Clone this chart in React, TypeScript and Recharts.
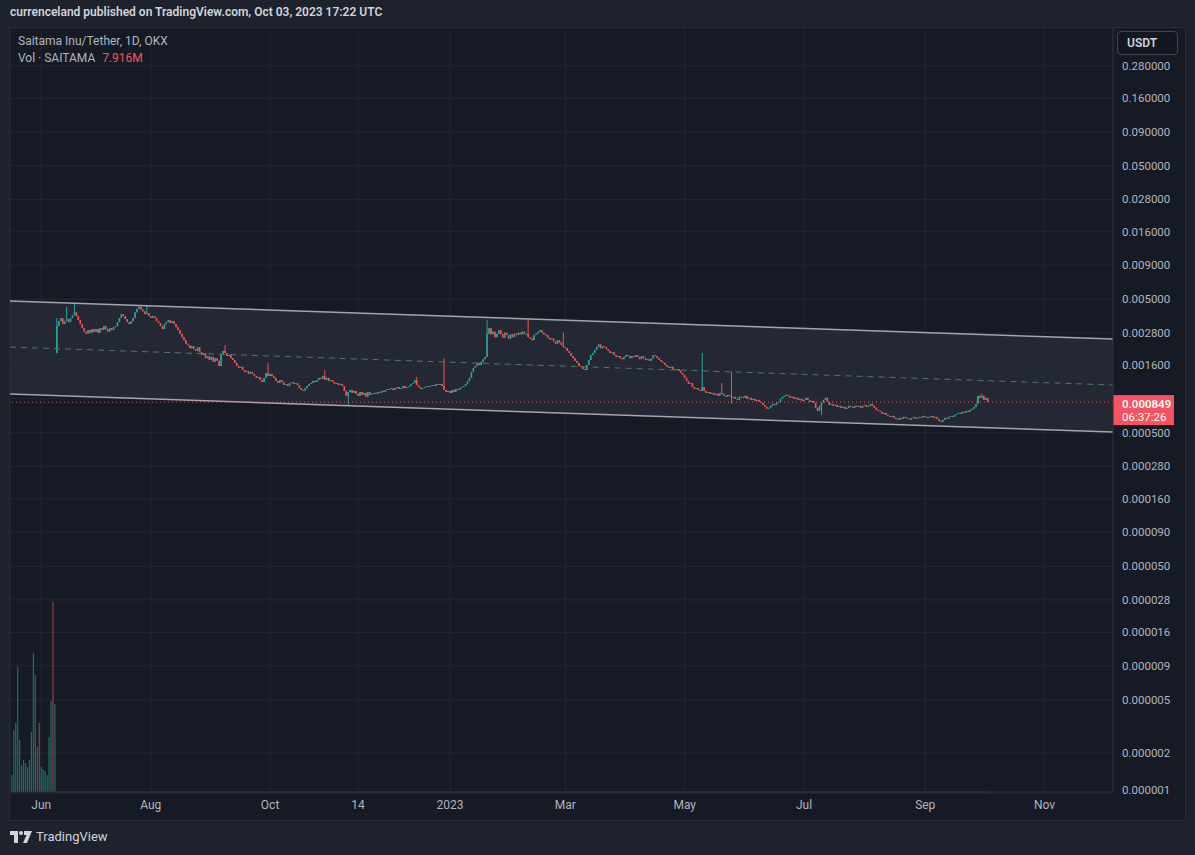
import React from "react";
import {
  ComposedChart,
  Bar,
  Line,
  Area,
  XAxis,
  YAxis,
  CartesianGrid,
  ReferenceLine,
} from "recharts";

// prices are in micro-USDT (1e-6), one close per day starting 2022-06-13
const FIRST_DAY = -201; // days relative to 2023-01-01
const FIRST_OPEN = 1980;
const closeMicro = [
  3150, 3430, 3620, 3260, 3430, 3560, 3370, 3620, 3800, 3990,
  3740, 3490, 3260, 3040, 2860, 2760, 2940, 2810, 2990, 2860,
  2990, 2810, 3040, 2940, 3150, 2990, 2860, 3040, 2940, 3090,
  3150, 3370, 3620, 3870, 3740, 3550, 3370, 3260, 3430, 3620,
  3990, 4250, 4400, 4180, 4060, 3870, 3940, 3740, 3620, 3740,
  3620, 3430, 3320, 3150, 2990, 3260, 3370, 3490, 3320, 3430,
  3260, 3090, 2940, 2760, 2600, 2472, 2320, 2271, 2150, 2230,
  2120, 2050, 2190, 2010, 1911, 1980, 1810, 1880, 1754, 1850,
  1700, 1810, 1730, 1580, 1940, 2050, 1980, 1880, 1911, 1810,
  1754, 1670, 1580, 1530, 1560, 1476, 1430, 1450, 1380, 1430,
  1380, 1330, 1290, 1310, 1243, 1200, 1290, 1400, 1330, 1380,
  1330, 1290, 1220, 1180, 1243, 1200, 1141, 1160, 1120, 1180,
  1200, 1160, 1180, 1141, 1080, 1047, 1030, 1080, 1120, 1160,
  1180, 1220, 1200, 1243, 1290, 1270, 1330, 1243, 1290, 1220,
  1243, 1200, 1160, 1180, 1141, 1160, 1120, 1030, 945, 1010,
  1047, 995, 1030, 980, 945, 1010, 961, 995, 930, 1010,
  961, 980, 995, 980, 1010, 995, 1030, 1010, 1047, 1065,
  1065, 1080, 1047, 1080, 1100, 1065, 1080, 1120, 1080, 1100,
  1120, 1160, 1180, 1243, 1141, 1100, 1065, 1080, 1100, 1120,
  1100, 1120, 1141, 1120, 1160, 1141, 1160, 1120, 1047, 1010,
  1030, 995, 1047, 1010, 1065, 1047, 1080, 1100, 1120, 1160,
  1220, 1290, 1430, 1530, 1580, 1670, 1609, 1700, 1780, 1850,
  2760, 3040, 2730, 2860, 2600, 2760, 2940, 2730, 2580, 2810,
  2698, 2540, 2730, 2600, 2760, 2698, 2810, 2730, 2860, 2760,
  2760, 2600, 2540, 2472, 2698, 2760, 2860, 2940, 2810, 2730,
  2698, 2580, 2500, 2540, 2420, 2320, 2472, 2370, 2271, 2190,
  2150, 2050, 1980, 1880, 1810, 1730, 1670, 1580, 1560, 1500,
  1476, 1609, 1754, 1911, 1980, 2082, 2190, 2300, 2150, 2230,
  2190, 2120, 2050, 1980, 2010, 1911, 1850, 1880, 1810, 1780,
  1850, 1911, 1880, 1810, 1880, 1850, 1911, 1850, 1780, 1880,
  1810, 1754, 1780, 1730, 1810, 1911, 1880, 1810, 1754, 1700,
  1670, 1609, 1560, 1530, 1560, 1500, 1476, 1500, 1450, 1400,
  1355, 1290, 1220, 1160, 1180, 1100, 1065, 1080, 1047, 1030,
  1100, 1030, 995, 1010, 980, 995, 961, 980, 945, 995,
  980, 945, 930, 961, 945, 914, 930, 898, 881, 930,
  930, 914, 945, 898, 914, 881, 898, 866, 881, 852,
  838, 809, 783, 757, 770, 796, 823, 809, 838, 852,
  898, 930, 945, 961, 945, 914, 930, 898, 914, 881,
  898, 866, 881, 914, 881, 852, 866, 838, 770, 730,
  796, 838, 881, 914, 852, 809, 823, 796, 809, 783,
  796, 770, 783, 757, 770, 796, 783, 770, 796, 783,
  796, 770, 796, 809, 783, 796, 823, 796, 770, 743,
  730, 717, 692, 705, 681, 669, 658, 669, 647, 636,
  625, 647, 636, 658, 647, 636, 625, 647, 658, 636,
  647, 658, 647, 669, 658, 647, 658, 669, 647, 658,
  636, 614, 604, 625, 647, 636, 658, 669, 658, 681,
  692, 705, 692, 717, 705, 730, 717, 743, 757, 783,
  823, 945, 914, 945, 881, 914, 849,
];

// [candle index, wick high, wick low] for the visible spikes
const wickSpikes: [number, number | null, number | null][] = [
  [0, 3620, null],
  [5, 4400, null],
  [9, 4680, null],
  [46, 4519, null],
  [86, 2271, null],
  [108, 1670, null],
  [137, 1476, null],
  [149, null, 809],
  [184, 1310, null],
  [198, 1810, null],
  [220, 3490, null],
  [241, 3620, null],
  [259, 2810, null],
  [330, 1980, null],
  [340, 1180, null],
  [345, 1430, 830],
  [391, null, 681],
  [473, 980, null],
];

// early volume bars (billions of SAITAMA), days -224 .. -202
const VOL_FIRST_DAY = -224;
const earlyVolume = [
  170, 620, 690, 1250, 520, 270, 320, 290, 250, 320, 600, 1390,
  1170, 450, 690, 250, 230, 210, 170, 550, 910, 1900, 880,
];
const earlyVolumeUp = [
  true, true, true, true, true, true, true, true, true, true, true, true,
  true, true, false, true, true, true, true, true, true, false, true,
];

// parallel channel endpoints
const channelDays = [-225, 339];
const channelUpper = [0.00485, 0.002519];
const channelMid = [0.002194, 0.00114];
const channelLower = [0.000975, 0.000507];

const LAST_PRICE = 0.000849;
const LAST_TIMER = "06:37:26";

const priceTicks = [
  0.28, 0.16, 0.09, 0.05, 0.028, 0.016, 0.009, 0.005, 0.0028, 0.0016, 0.0009,
  0.0005, 0.00028, 0.00016, 0.00009, 0.00005, 0.000028, 0.000016, 0.000009,
  0.000005, 0.000002, 0.000001,
];
const timeTicks = [-209, -153, -92, -47, 0, 59, 120, 181, 243, 304];
const timeLabels = ["Jun", "Aug", "Oct", "14", "2023", "Mar", "May", "Jul", "Sep", "Nov"];

const UP = "#26a69a";
const DOWN = "#ef5350";
const PANE = "#161a25";
const OUTER = "#1e222d";
const BORDER = "#2a2e39";
const GRID = "#232733";
const TEXT = "#b2b5be";
const FONT = "Roboto, 'Noto Sans', sans-serif";

type Row = {
  d: number;
  o?: number;
  c?: number;
  h?: number;
  l?: number;
  v?: number;
  up?: boolean;
  upper?: number;
  mid?: number;
  lower?: number;
  band?: [number, number];
};

function buildRows(): Row[] {
  const rows: Row[] = [];
  channelDays.forEach((d, i) => {
    rows.push({
      d,
      upper: channelUpper[i],
      mid: channelMid[i],
      lower: channelLower[i],
      band: [channelLower[i], channelUpper[i]],
    });
  });
  earlyVolume.forEach((v, i) => {
    rows.push({ d: VOL_FIRST_DAY + i, v, up: earlyVolumeUp[i] });
  });
  closeMicro.forEach((c, i) => {
    const o = i === 0 ? FIRST_OPEN : closeMicro[i - 1];
    const spike = wickSpikes.find((w) => w[0] === i);
    const h = Math.max(o, c, spike?.[1] ?? 0);
    const l = Math.min(o, c, spike?.[2] ?? Infinity);
    rows.push({ d: FIRST_DAY + i, o: o / 1e6, c: c / 1e6, h: h / 1e6, l: l / 1e6 });
  });
  return rows.sort((a, b) => a.d - b.d);
}

const data = buildRows();

function CandleShape(props: any) {
  const { x, y, width, height, payload } = props;
  if (!payload || payload.c == null || !isFinite(y) || !isFinite(height)) return null;
  const top = Math.min(y, y + height);
  const bottom = Math.max(y, y + height);
  const lh = Math.log(payload.h);
  const ll = Math.log(payload.l);
  const span = lh - ll || 1;
  const toY = (v: number) => top + ((lh - Math.log(v)) / span) * (bottom - top);
  const color = payload.c >= payload.o ? UP : DOWN;
  const cx = x + width / 2;
  const bTop = toY(Math.max(payload.o, payload.c));
  const bBot = toY(Math.min(payload.o, payload.c));
  return (
    <g>
      <line x1={cx} x2={cx} y1={top} y2={Math.max(bottom, top + 1)} stroke={color} strokeWidth={1} />
      <rect x={cx - 0.8} y={bTop} width={1.6} height={Math.max(1, bBot - bTop)} fill={color} />
    </g>
  );
}

function VolumeShape(props: any) {
  const { x, y, width, height, payload } = props;
  if (!payload || payload.v == null || !isFinite(y) || !isFinite(height) || height <= 0) return null;
  return (
    <rect
      x={x + width / 2 - 0.6}
      y={y}
      width={1.2}
      height={height}
      fill={payload.up ? UP : DOWN}
      fillOpacity={0.6}
    />
  );
}

function PriceTick(props: any) {
  const { x, y, payload } = props;
  const v = payload.value as number;
  if (v === 0.0009) return null;
  const dy = v === 0.000001 ? -3 : 0;
  return (
    <text
      x={x + 1}
      y={y + dy}
      fill={TEXT}
      fontSize={11.5}
      fontFamily={FONT}
      textAnchor="start"
      dominantBaseline="central"
    >
      {v.toFixed(6)}
    </text>
  );
}

function PriceBadge(props: any) {
  const vb = props.viewBox;
  if (!vb) return null;
  const x = vb.x + vb.width;
  const y = vb.y;
  return (
    <g>
      <rect x={x} y={y - 7} width={61} height={30} fill="#f7525f" />
      <text x={x + 9} y={y + 2} fill="#ffffff" fontSize={11.5} fontWeight={600} fontFamily={FONT} dominantBaseline="central">
        {LAST_PRICE.toFixed(6)}
      </text>
      <text x={x + 9} y={y + 15} fill="#ffffff" fontSize={11.5} fontFamily={FONT} dominantBaseline="central">
        {LAST_TIMER}
      </text>
    </g>
  );
}

function TvLogo() {
  return (
    <svg width={22} height={12} viewBox="0 0 22 12" style={{ display: "block" }}>
      <path d="M0 0h8v12H4V4H0z" fill="#d1d4dc" />
      <circle cx={11} cy={2} r={2} fill="#d1d4dc" />
      <path d="M14 0h8l-5 12h-4l3.5-8H14z" fill="#d1d4dc" />
    </svg>
  );
}

export default function App() {
  return (
    <div
      style={{
        position: "absolute",
        left: 0,
        top: 0,
        width: 1195,
        height: 855,
        background: OUTER,
        fontFamily: FONT,
        overflow: "hidden",
      }}
    >
      <div
        style={{
          position: "absolute",
          left: 10,
          top: 5,
          fontSize: 12,
          fontWeight: 600,
          color: "#d1d4dc",
          whiteSpace: "nowrap",
        }}
      >
        currenceland published on TradingView.com, Oct 03, 2023 17:22 UTC
      </div>

      <div
        style={{
          position: "absolute",
          left: 9,
          top: 27,
          width: 1175,
          height: 792,
          background: PANE,
          border: `1px solid ${BORDER}`,
        }}
      />

      <div style={{ position: "absolute", left: 0, top: 0 }}>
        <ComposedChart
          width={1185}
          height={820}
          data={data}
          margin={{ top: 28, right: 0, bottom: 0, left: 10 }}
        >
          <CartesianGrid yAxisId="price" stroke={GRID} />
          <XAxis
            dataKey="d"
            type="number"
            domain={[-225, 339]}
            allowDataOverflow
            ticks={timeTicks}
            interval={0}
            tickFormatter={(v: number) => timeLabels[timeTicks.indexOf(v)] ?? ""}
            height={28}
            axisLine={{ stroke: BORDER }}
            tickLine={false}
            tick={{ fill: TEXT, fontSize: 12, fontFamily: FONT }}
          />
          <XAxis
            xAxisId="v"
            dataKey="d"
            type="number"
            domain={[-225, 339]}
            allowDataOverflow
            hide
          />
          <YAxis
            yAxisId="price"
            orientation="right"
            scale="log"
            domain={[1.02e-6, 0.538]}
            allowDataOverflow
            ticks={priceTicks}
            interval={0}
            width={72}
            axisLine={{ stroke: BORDER }}
            tickLine={false}
            tick={<PriceTick />}
          />
          <YAxis yAxisId="vol" hide domain={[0, 7640]} allowDataOverflow />

          <Area
            yAxisId="price"
            dataKey="band"
            type="linear"
            stroke="none"
            fill="#2a2e39"
            fillOpacity={0.75}
            connectNulls
            isAnimationActive={false}
          />
          <Line
            yAxisId="price"
            dataKey="upper"
            type="linear"
            stroke="#a3a6af"
            strokeWidth={1.5}
            dot={false}
            connectNulls
            isAnimationActive={false}
          />
          <Line
            yAxisId="price"
            dataKey="lower"
            type="linear"
            stroke="#a3a6af"
            strokeWidth={1.5}
            dot={false}
            connectNulls
            isAnimationActive={false}
          />
          <Line
            yAxisId="price"
            dataKey="mid"
            type="linear"
            stroke="#4f7a5e"
            strokeWidth={1}
            strokeDasharray="6 5"
            dot={false}
            connectNulls
            isAnimationActive={false}
          />

          <Bar
            xAxisId="v"
            yAxisId="vol"
            dataKey="v"
            barSize={2}
            shape={<VolumeShape />}
            isAnimationActive={false}
          />
          <ReferenceLine
            xAxisId="v"
            yAxisId="vol"
            segment={[
              { x: FIRST_DAY, y: 0 },
              { x: FIRST_DAY + closeMicro.length - 1, y: 0 },
            ]}
            stroke={UP}
            strokeOpacity={0.55}
            strokeDasharray="1 1"
          />

          <Bar
            yAxisId="price"
            dataKey={(r: Row) => (r.c == null ? undefined : [r.l, r.h])}
            barSize={2}
            shape={<CandleShape />}
            isAnimationActive={false}
          />

          <ReferenceLine
            yAxisId="price"
            y={LAST_PRICE}
            stroke="#f7525f"
            strokeDasharray="1 3"
            label={<PriceBadge />}
          />
        </ComposedChart>
      </div>

      <div style={{ position: "absolute", left: 18, top: 34, fontSize: 12, color: TEXT, whiteSpace: "nowrap" }}>
        Saitama Inu/Tether, 1D, OKX
      </div>
      <div style={{ position: "absolute", left: 18, top: 51, fontSize: 12, color: TEXT, whiteSpace: "nowrap" }}>
        Vol · SAITAMA <span style={{ color: "#f7525f", marginLeft: 4 }}>7.916M</span>
      </div>

      <div
        style={{
          position: "absolute",
          left: 1117,
          top: 31,
          width: 61,
          height: 24,
          boxSizing: "border-box",
          border: "1px solid #434651",
          borderRadius: 4,
          background: "#131722",
          color: "#d1d4dc",
          fontSize: 12,
          fontWeight: 600,
          lineHeight: "22px",
          paddingLeft: 9,
        }}
      >
        USDT
      </div>

      <div
        style={{
          position: "absolute",
          left: 10,
          top: 829,
          display: "flex",
          alignItems: "center",
          gap: 4,
          color: "#d1d4dc",
          fontSize: 13,
        }}
      >
        <TvLogo />
        <span>TradingView</span>
      </div>
    </div>
  );
}
